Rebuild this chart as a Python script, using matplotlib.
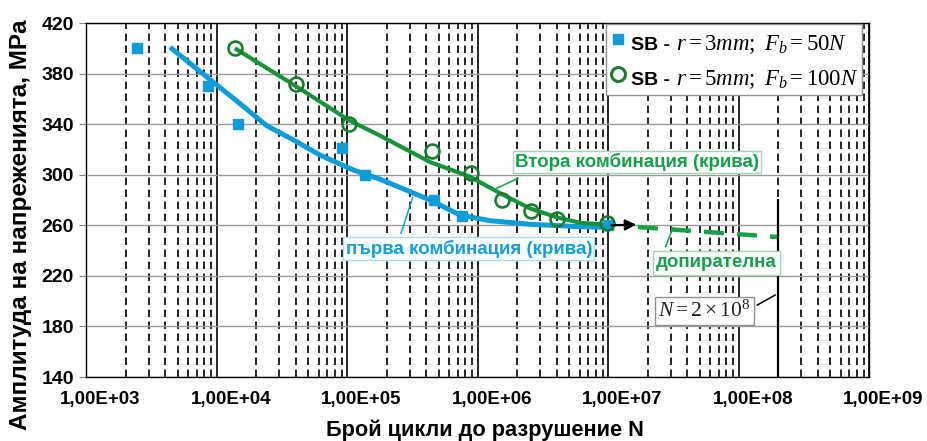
import numpy as np
import matplotlib
matplotlib.use("Agg")
import matplotlib.pyplot as plt
import matplotlib.transforms as mtransforms
from matplotlib.ticker import FixedLocator, FuncFormatter, NullFormatter
from matplotlib.lines import Line2D
from matplotlib.offsetbox import (AnchoredOffsetbox, DrawingArea, HPacker,
                                  TextArea, VPacker)

plt.rcParams['font.family'] = ['Liberation Sans', 'DejaVu Sans']
plt.rcParams['mathtext.fontset'] = 'custom'
plt.rcParams['mathtext.rm'] = 'Liberation Serif'
plt.rcParams['mathtext.it'] = 'Liberation Serif:italic'

# Test points: SB, r = 3 mm, Fb = 50 N
n_sb3 = [2.45e3, 8.6e3, 1.45e4, 9.1e4, 1.35e5, 4.6e5, 7.5e5, 9.9e6]
s_sb3 = [400, 370, 340, 321, 300, 280, 267, 260]

# Test points: SB, r = 5 mm, Fb = 100 N
n_sb5 = [1.37e4, 4.0e4, 1.03e5, 4.45e5, 8.9e5, 1.53e6, 2.56e6, 4.0e6, 9.75e6]
s_sb5 = [400, 372, 340, 319, 301, 280, 271, 265, 262]

# Fitted curve, first combination
n_curve1 = [4.37e3, 9.95e3, 1.42e4, 2.4e4, 3.85e4, 6.15e4, 1.11e5, 1.78e5,
            4.29e5, 7.28e5, 1.24e6, 2.5e6, 6.05e6, 9.75e6]
s_curve1 = [400.8, 371.0, 358.2, 338.8, 327.5, 315.6, 303.7, 296.4,
            280.0, 268.1, 263.6, 260.8, 258.9, 258.4]

# Fitted curve, second combination
n_curve2 = [1.37e4, 4.03e4, 1.03e5, 1.77e5, 4.29e5, 8.69e5, 1.48e6, 2.5e6,
            4.01e6, 6.05e6, 1.0e7]
s_curve2 = [400.0, 370.0, 343.0, 331.0, 310.0, 298.4, 285.3, 273.4,
            266.3, 262.0, 260.3]

# Tangent extension towards N = 2e8
n_tangent = [1.68e7, 2.0e8]
s_tangent = [258.6, 250.7]

# Arrow marking the transition to the tangent
n_arrow = [1.05e7, 1.63e7]
s_arrow = [260.0, 260.5]

# Base number of cycles marker
n_base = 2.0e8
s_base = [140, 280]

y_ticks = [140, 180, 220, 260, 300, 340, 380, 420]
x_ticks = [1e3, 1e4, 1e5, 1e6, 1e7, 1e8, 1e9]

legend_names = ['SB -', 'SB -']
legend_params = [r'$r = 3mm;\ F_b = 50N$', r'$r = 5mm;\ F_b = 100N$']

blue = '#0C9DDA'
green_line = '#16943C'
green_marker = '#1E7A30'
green_text = '#16A047'

fig = plt.figure(figsize=(9.28, 4.41), dpi=100)
W, H = 928, 441
ax = fig.add_axes([86.5 / W, 1 - 377 / H, 783 / W, 354 / H])

ax.set_xscale('log')
ax.set_xlim(1e3, 1e9)
ax.set_ylim(140, 420)
ax.xaxis.set_major_locator(FixedLocator(x_ticks))
ax.xaxis.set_minor_locator(FixedLocator(
    [m * 10.0 ** e for e in range(3, 9) for m in range(2, 10)]))
ax.xaxis.set_minor_formatter(NullFormatter())
ax.yaxis.set_major_locator(FixedLocator(y_ticks))


def sci_comma(x, pos):
    e = int(np.floor(np.log10(x) + 1e-9))
    m = x / 10.0 ** e
    return f"{m:.2f}".replace('.', ',') + f"E+{e:02d}"


ax.xaxis.set_major_formatter(FuncFormatter(sci_comma))

ax.grid(True, which='major', axis='x', color='black', lw=1.2)
ax.grid(True, which='minor', axis='x', color='black', lw=1.2,
        ls=(0, (4.5, 2.7)))
ax.grid(True, which='major', axis='y', color='#9A9A9A', lw=1.0)
ax.set_axisbelow(True)

ax.tick_params(axis='x', which='both', length=0, pad=10, labelsize=13.5)
ax.tick_params(axis='y', which='major', length=5, color='#808080', pad=4,
               labelsize=14)
for lab in ax.get_xticklabels() + ax.get_yticklabels():
    lab.set_fontweight('bold')
for lab in ax.get_xticklabels():
    lab.set_transform(lab.get_transform() +
                      mtransforms.ScaledTranslation(14 / 100, 0, fig.dpi_scale_trans))
for sp in ax.spines.values():
    sp.set_color('black')
    sp.set_linewidth(1.0)

# curves
ax.plot(n_curve1, s_curve1, color=blue, lw=3.6, solid_capstyle='butt',
        solid_joinstyle='round', zorder=3)
ax.plot(n_curve2, s_curve2, color=green_line, lw=3.0, solid_capstyle='butt',
        solid_joinstyle='round', zorder=3)

# tangent and arrow
ax.plot(n_tangent, s_tangent, color='#18A048', lw=3.2, ls=(0, (4.5, 2.95)),
        zorder=3)
ax.annotate('', xy=(n_arrow[1], s_arrow[1]), xytext=(n_arrow[0], s_arrow[0]),
            arrowprops=dict(arrowstyle='-|>', color='black', lw=1.6,
                            mutation_scale=16, shrinkA=0, shrinkB=0),
            zorder=5)

# base number of cycles
ax.plot([n_base, n_base], s_base, color='black', lw=1.6, zorder=3)

# markers
ax.plot(n_sb3, s_sb3, ls='', marker='s', ms=7.5, color=blue, mec=blue, zorder=4)
ax.plot(n_sb5, s_sb5, ls='', marker='o', ms=10, mfc='none', mec=green_marker,
        mew=1.9, zorder=4)

# annotations
ax.text(1.65e7, 310.0, 'Втора комбинация (крива)', color=green_text,
        fontsize=13.5, fontweight='bold', ha='center', va='center', zorder=6,
        bbox=dict(boxstyle='square,pad=0.12', fc='white', ec='#A6D8B0', lw=1.0))
ax.plot([1.39e6, 2.03e6], [289.3, 297.2], color=green_text, lw=1.1, zorder=6)

ax.text(8.53e5, 241.5, 'първа комбинация (крива)', color='#12A0DC',
        fontsize=13.5, fontweight='bold', ha='center', va='center', zorder=6,
        bbox=dict(boxstyle='square,pad=0.12', fc='white', ec='#A8DCF0', lw=1.0))
ax.plot([2.57e5, 3.16e5], [253.7, 282.1], color='#12A0DC', lw=1.1, zorder=6)

ax.text(6.7e7, 230.3, 'допирателна', color=green_text,
        fontsize=13.5, fontweight='bold', ha='center', va='center', zorder=6,
        bbox=dict(boxstyle='square,pad=0.18', fc='white', ec='#A6D8B0', lw=1.0))
ax.plot([2.74e7, 3.1e7], [243.1, 257.6], color=green_text, lw=1.1, zorder=6)

ax.text(5.45e7, 192.3, r'$N = 2\times10^8$', color='#222222',
        fontsize=15.5, ha='center', va='center', zorder=6,
        bbox=dict(boxstyle='square,pad=0.15', fc='white', ec='#909090', lw=1.0))
ax.plot([1.38e8, 1.89e8], [196.9, 204.8], color='black', lw=1.1, zorder=6)

# legend built from packed rows: marker, bold name, italic parameters
marker_styles = [
    dict(ls='', marker='s', ms=7.5, color=blue),
    dict(ls='', marker='o', ms=10, mfc='none', mec=green_marker, mew=2.2),
]
rows = []
for style, name, params in zip(marker_styles, legend_names, legend_params):
    da = DrawingArea(11, 16, 0, 0)
    da.add_artist(Line2D([5.5], [8], **style))
    t_name = TextArea(name, textprops=dict(size=14, weight='bold'))
    t_par = TextArea(params, textprops=dict(size=16.5))
    rows.append(HPacker(children=[da, t_name, t_par], align='baseline',
                        pad=0, sep=4))
vbox = VPacker(children=rows, align='left', pad=0, sep=5)
leg = AnchoredOffsetbox(loc='upper right', child=vbox, pad=0.3, borderpad=0,
                        frameon=True, bbox_to_anchor=(0.991, 0.997),
                        bbox_transform=ax.transAxes)
leg.patch.set_boxstyle('square,pad=0')
leg.patch.set_edgecolor('#909090')
leg.patch.set_facecolor('white')
leg.patch.set_linewidth(1.0)
leg.set_zorder(7)
ax.add_artist(leg)

fig.text(21 / W, 1 - 225 / H, 'Амплитуда на напреженията, MPa', rotation=90,
         ha='center', va='center', fontsize=17.5, fontweight='bold')
fig.text(485 / W, 1 - 436 / H, 'Брой цикли до разрушение N', ha='center',
         va='baseline', fontsize=15.7, fontweight='bold')

fig.savefig('out.png', dpi=100)
